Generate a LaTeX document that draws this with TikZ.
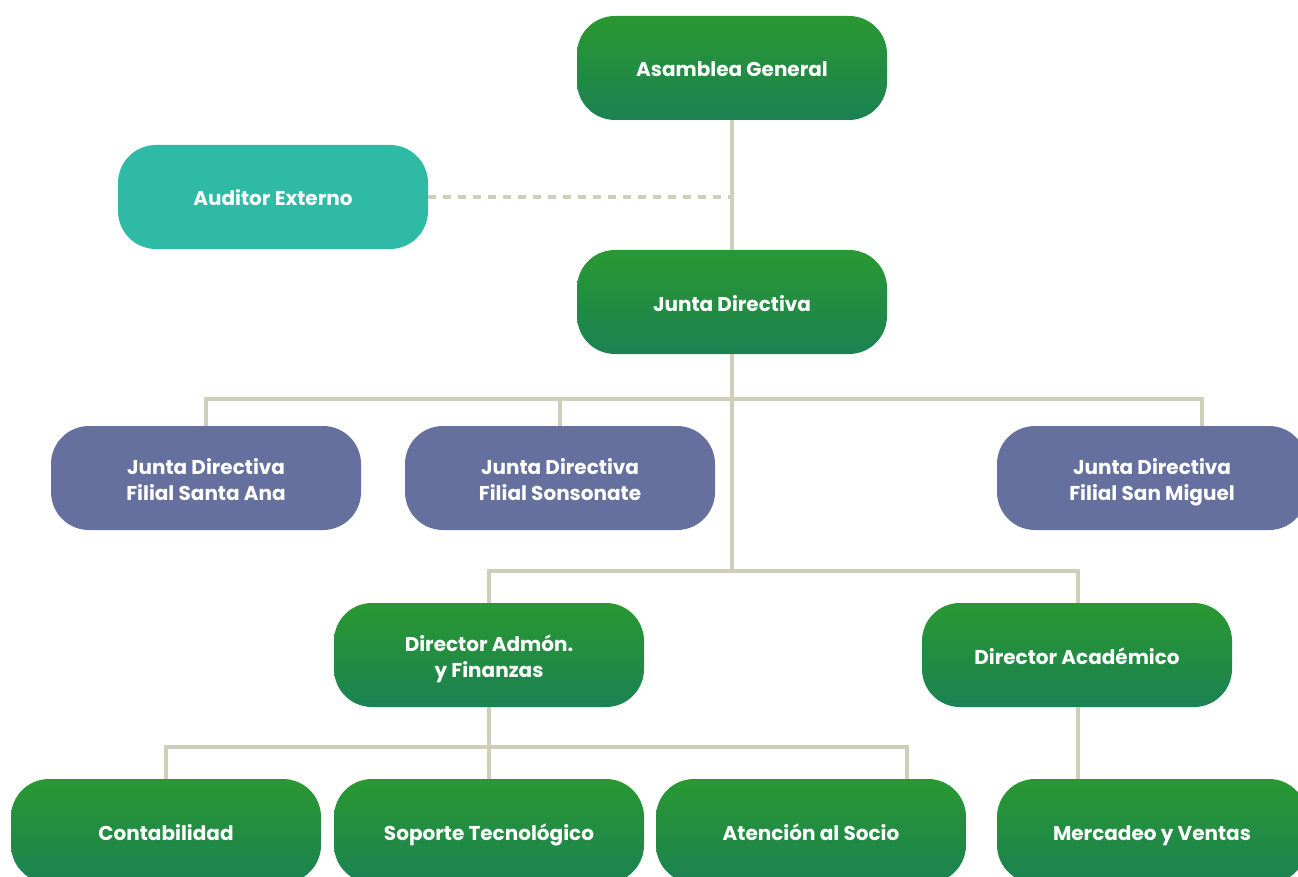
\documentclass[tikz,border=0pt]{standalone}
\usepackage{fontspec}
\setmainfont{Poppins}
\definecolor{gtop}{RGB}{42,152,50}
\definecolor{gbot}{RGB}{27,130,82}
\definecolor{teal}{RGB}{46,186,165}
\definecolor{purp}{RGB}{102,112,158}
\definecolor{lineC}{RGB}{206,206,186}
\newcommand\tst{\rule{0pt}{24pt}}
\newcommand\bst{\rule[-6pt]{0pt}{6pt}}
\tikzset{
  box/.style={minimum width=310pt, minimum height=104pt, rounded corners=38pt,
    text=white, font=\fontsize{20}{26}\selectfont\bfseries, align=center, inner sep=0pt},
  gbox/.style={box, top color=gtop, bottom color=gbot},
  tbox/.style={box, fill=teal},
  pbox/.style={box, fill=purp},
  conn/.style={draw=lineC, line width=4pt},
  dconn/.style={draw=lineC, line width=4pt, dash pattern=on 8pt off 7pt},
}
\begin{document}
\begin{tikzpicture}[x=1pt,y=-1pt]
\useasboundingbox (0,0) rectangle (1298,877);
\clip (0,0) rectangle (1298,877);
\coordinate (dj) at (732,197);
\coordinate (b1) at (732,399);
\coordinate (b2) at (732,571);
\coordinate (b3) at (489,747);
% nodes
\node[gbox] (ag) at (732,68) {\tst\bst Asamblea General};
\node[tbox] (ae) at (273,197) {\tst\bst Auditor Externo};
\node[gbox] (jd) at (732,302) {\tst\bst Junta Directiva};
\node[pbox] (sa) at (206,478) {\tst Junta Directiva\\\bst Filial Santa Ana};
\node[pbox] (so) at (560,478) {\tst Junta Directiva\\\bst Filial Sonsonate};
\node[pbox] (sm) at (1152,478) {\tst Junta Directiva\\\bst Filial San Miguel};
\node[gbox] (da) at (489,655) {\tst Director Admón.\\\bst y Finanzas};
\node[gbox] (dc) at (1077,655) {\tst\bst Director Académico};
\node[gbox] (co) at (166,831) {\tst\bst Contabilidad};
\node[gbox] (st) at (489,831) {\tst\bst Soporte Tecnológico};
\node[gbox] (at) at (811,831) {\tst\bst Atención al Socio};
\node[gbox] (mv) at (1152,831) {\tst\bst Mercadeo y Ventas};
% connectors
\draw[conn] (ag.south) -- (jd.north);
\draw[dconn] (ae.east) -- (dj);
\draw[conn] (jd.south) -- (b2);
\draw[conn] (sa.north) |- (b1) -| (sm.north -| 1202,0);
\draw[conn] (so.north) -- (so.north |- b1);
\draw[conn] (da.north) |- (b2) -| (dc.north -| 1078,0);
\draw[conn] (da.south) -- (b3);
\draw[conn] (co.north) |- (b3) -| (at.north -| 907,0);
\draw[conn] (st.north) -- (b3);
\draw[conn] (dc.south -| 1078,0) -- (mv.north -| 1078,0);
\end{tikzpicture}
\end{document}
